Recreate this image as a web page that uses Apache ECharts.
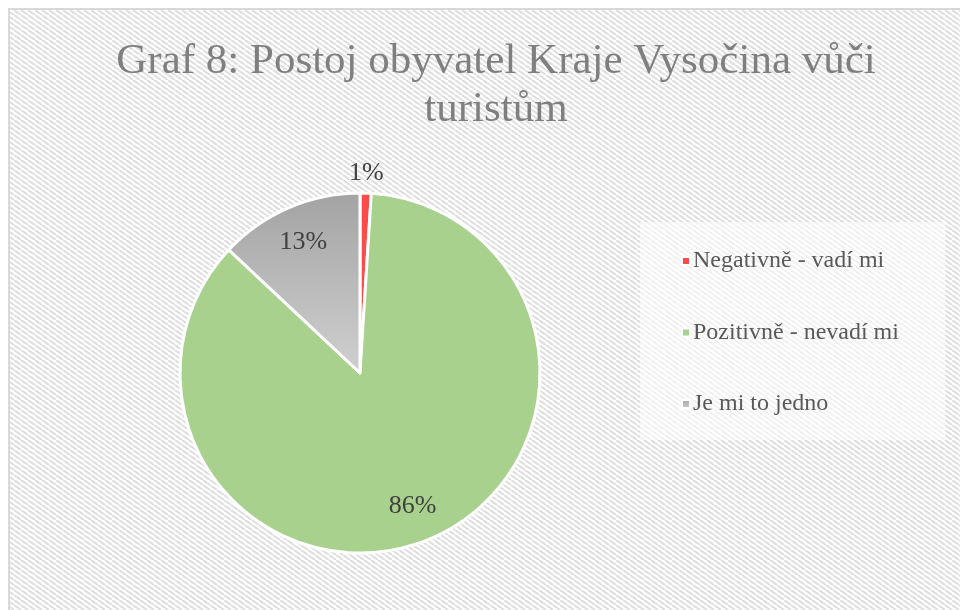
<!DOCTYPE html>
<html>
<head>
<meta charset="utf-8">
<script src="https://cdn.jsdelivr.net/npm/echarts@6/dist/echarts.min.js"></script>
<style>
  html, body { margin: 0; padding: 0; background: #fff; }
  #chart { width: 960px; height: 610px; }
</style>
</head>
<body>
<div id="chart"></div>
<script>
// data
const categories = ['Negativně - vadí mi', 'Pozitivně - nevadí mi', 'Je mi to jedno'];
const shares = [1, 86, 13];
const titleText = 'Graf 8: Postoj obyvatel Kraje Vysočina vůči\nturistům';

const colors = [
  '#fb4b4b',
  '#a9d18e',
  new echarts.graphic.LinearGradient(0, 0, 0, 1, [
    { offset: 0, color: '#a3a3a3' },
    { offset: 1, color: '#d0d0d0' }
  ])
];

// hatched background tile
const makeHatch = () => {
  const w = 7, h = 5;
  const c = document.createElement('canvas');
  c.width = w; c.height = h;
  const ctx = c.getContext('2d');
  ctx.fillStyle = '#ffffff';
  ctx.fillRect(0, 0, w, h);
  ctx.strokeStyle = '#dedede';
  ctx.lineWidth = 2;
  for (let k = -1; k <= 1; k++) {
    ctx.beginPath();
    ctx.moveTo(k * w, 0);
    ctx.lineTo(k * w + w, h);
    ctx.stroke();
  }
  return c;
};

const chart = echarts.init(document.getElementById('chart'));
const serif = 'Liberation Serif';
const center = [360, 373];

const mainData = categories.map((name, i) => ({
  name,
  value: shares[i],
  itemStyle: { color: colors[i] }
}));

// invisible rings only used to place the percentage labels
const ghostData = (show) => categories.map((name, i) => ({
  name,
  value: shares[i],
  label: { show: show[i] }
}));

const ghost = (radius, show) => ({
  type: 'pie',
  center,
  radius,
  startAngle: 90,
  silent: true,
  legendHoverLink: false,
  itemStyle: { color: 'transparent', borderWidth: 0 },
  label: {
    position: 'inside',
    formatter: p => p.value + '%',
    fontFamily: serif,
    fontSize: 26,
    color: '#404040'
  },
  labelLine: { show: false },
  emphasis: { disabled: true },
  data: ghostData(show)
});

const option = {
  backgroundColor: '#ffffff',
  animation: false,
  graphic: [
    {
      type: 'rect',
      z: -10,
      shape: { x: 9, y: 9, width: 980, height: 640 },
      style: {
        fill: { image: makeHatch(), repeat: 'repeat' },
        stroke: '#d9d9d9',
        lineWidth: 2
      }
    },
    {
      type: 'rect',
      z: -9,
      shape: { x: 640, y: 222, width: 305, height: 218 },
      style: { fill: 'rgba(255,255,255,0.55)' }
    }
  ],
  title: {
    text: titleText,
    left: 491,
    textAlign: 'center',
    top: 33,
    textStyle: {
      fontFamily: serif,
      fontSize: 43,
      fontWeight: 'normal',
      lineHeight: 48,
      color: '#7f7f7f'
    }
  },
  legend: {
    orient: 'vertical',
    left: 681,
    top: 249,
    padding: 0,
    icon: 'rect',
    itemWidth: 8,
    itemHeight: 8,
    itemGap: 47.5,
    data: categories,
    textStyle: {
      fontFamily: serif,
      fontSize: 24,
      lineHeight: 24,
      color: '#595959',
      padding: [0, 0, 0, -2]
    }
  },
  series: [
    {
      type: 'pie',
      center,
      radius: 180,
      startAngle: 90,
      itemStyle: { borderColor: '#ffffff', borderWidth: 3 },
      label: { show: false },
      labelLine: { show: false },
      data: mainData
    },
    ghost([95, 185], [false, true, true]),
    ghost([185, 209], [true, false, false])
  ]
};

chart.setOption(option);
</script>
</body>
</html>
